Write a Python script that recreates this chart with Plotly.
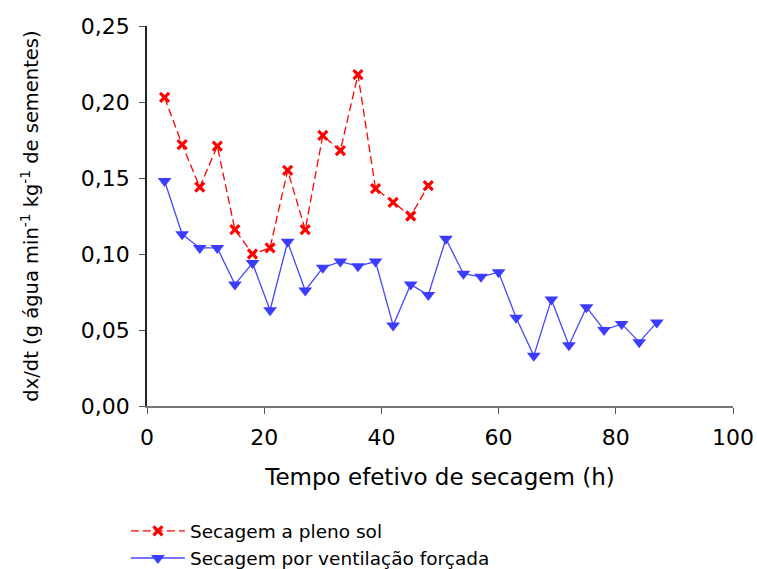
import plotly.graph_objects as go

# Drying rate over effective drying time for the two drying methods
tempo_sol = [3, 6, 9, 12, 15, 18, 21, 24, 27, 30, 33, 36, 39, 42, 45, 48]
taxa_sol = [0.203, 0.172, 0.144, 0.171, 0.116, 0.100, 0.104, 0.155, 0.116,
            0.178, 0.168, 0.218, 0.143, 0.134, 0.125, 0.145]

tempo_vent = [3, 6, 9, 12, 15, 18, 21, 24, 27, 30, 33, 36, 39, 42, 45, 48,
              51, 54, 57, 60, 63, 66, 69, 72, 75, 78, 81, 84, 87]
taxa_vent = [0.148, 0.113, 0.104, 0.104, 0.080, 0.094, 0.063, 0.108, 0.076,
             0.091, 0.095, 0.092, 0.095, 0.053, 0.080, 0.073, 0.110, 0.087,
             0.085, 0.088, 0.058, 0.033, 0.070, 0.040, 0.065, 0.050, 0.054,
             0.042, 0.055]

nome_sol = "Secagem a pleno sol"
nome_vent = "Secagem por ventilação forçada"
x_ticks = [0, 20, 40, 60, 80, 100]
y_ticks = [0.0, 0.05, 0.10, 0.15, 0.20, 0.25]

FONT = "DejaVu Sans, Arial, sans-serif"

fig = go.Figure()
fig.add_trace(go.Scatter(
    x=tempo_sol, y=taxa_sol, name=nome_sol, mode="lines+markers",
    line=dict(color="#ff0000", width=1.3, dash="8px,4px"),
    marker=dict(symbol="x-thin", size=9, color="#ff0000",
                line=dict(color="#ff0000", width=3.2)),
))
fig.add_trace(go.Scatter(
    x=tempo_vent, y=taxa_vent, name=nome_vent, mode="lines+markers",
    line=dict(color="#4646ff", width=1.3),
    marker=dict(symbol="triangle-down", size=12, color="#3c3cff",
                line=dict(width=0)),
))

fig.update_layout(
    width=757, height=569,
    margin=dict(l=147, r=24, t=26, b=163, autoexpand=False),
    paper_bgcolor="white", plot_bgcolor="white",
    separators=",.",
    font=dict(family=FONT, color="#000000", size=22),
    showlegend=True,
    legend=dict(
        x=-0.036, y=-0.28, xanchor="left", yanchor="top",
        orientation="v", font=dict(size=18.5, family=FONT),
        itemwidth=54, tracegroupgap=0, bgcolor="rgba(0,0,0,0)",
    ),
    xaxis=dict(
        range=[0, 100], tickvals=x_ticks, ticks="outside", ticklen=6,
        tickcolor="#555555", showline=True, linecolor="#777777", linewidth=1.5,
        showgrid=False, zeroline=False, tickfont=dict(size=22),
        ticklabelstandoff=5, automargin=False,
        title=dict(text="Tempo efetivo de secagem (h)", font=dict(size=23),
                   standoff=20),
    ),
    yaxis=dict(
        range=[0, 0.25], tickvals=y_ticks, tickformat=".2f", ticks="outside",
        ticklen=6, tickcolor="#555555", showline=True, linecolor="#222222",
        linewidth=1.5, showgrid=False, zeroline=False, tickfont=dict(size=22),
        ticklabelstandoff=5, automargin=False,
        title=dict(
            text="dx/dt (g água min<sup>-1</sup> kg<sup>-1</sup> de sementes)",
            font=dict(size=19.5), standoff=37),
    ),
)

fig.write_html("out.html")
